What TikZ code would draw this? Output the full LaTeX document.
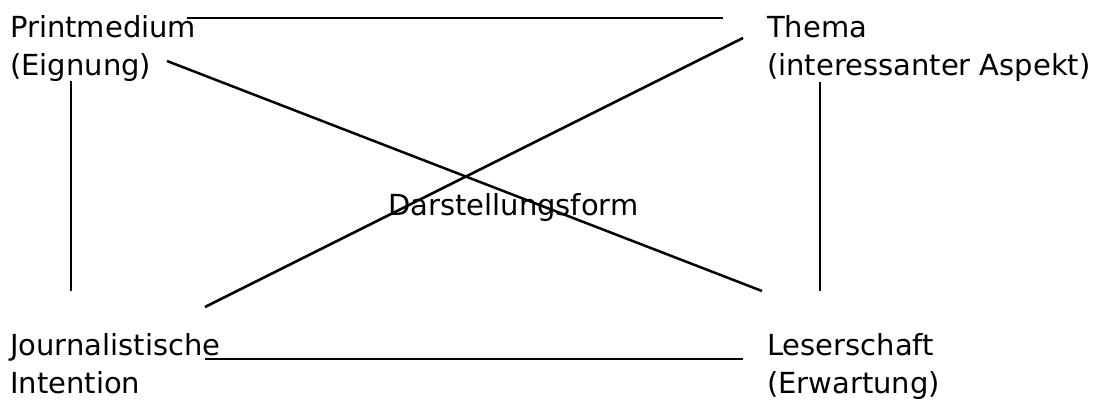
\documentclass[tikz,border=0pt]{standalone}
\usepackage{fontspec}
\setmainfont{DejaVu Sans}
\begin{document}
\begin{tikzpicture}[x=1pt,y=-1pt,
  lbl/.style={anchor=base west,inner sep=0pt,align=left,font=\fontsize{29}{37.5}\selectfont},
  conn/.style={line width=2.5pt,black}]
\useasboundingbox (0,0) rectangle (1102,400);
\node[lbl] (pm) at (10,75) {Printmedium\\(Eignung)};
\node[lbl] (th) at (767,75) {Thema\\(interessanter Aspekt)};
\node[lbl] (ji) at (10,393) {Journalistische\\Intention};
\node[lbl] (ls) at (767,393) {Leserschaft\\(Erwartung)};
\node[lbl] (df) at (388,215) {Darstellungsform};
\coordinate (a1) at (187,18); \coordinate (a2) at (723,18);
\coordinate (b1) at (167,61); \coordinate (b2) at (762,291);
\coordinate (c1) at (743,38); \coordinate (c2) at (205,307);
\coordinate (d1) at (71,81); \coordinate (d2) at (71,291);
\coordinate (e1) at (820,82); \coordinate (e2) at (820,291);
\coordinate (f1) at (205,359); \coordinate (f2) at (743,359);
\draw[conn] (a1) -- (a2);
\draw[conn] (b1) -- (b2);
\draw[conn] (c1) -- (c2);
\draw[conn] (d1) -- (d2);
\draw[conn] (e1) -- (e2);
\draw[conn] (f1) -- (f2);
\end{tikzpicture}
\end{document}
